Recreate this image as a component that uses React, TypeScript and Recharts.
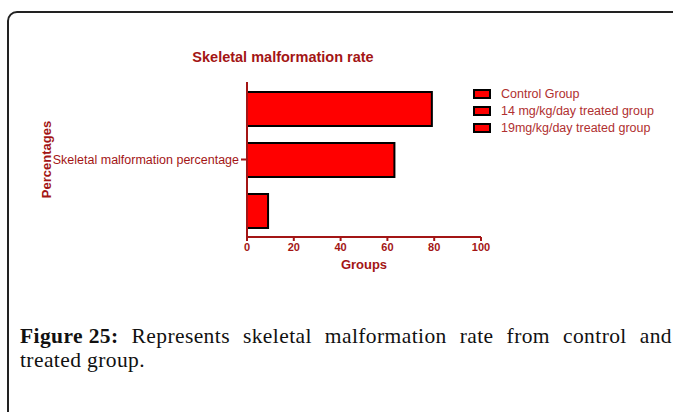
import { BarChart, Bar, XAxis, YAxis } from "recharts";

const categories = ["Skeletal malformation percentage"];
const seriesNames = [
  "Control Group",
  "14 mg/kg/day treated group",
  "19mg/kg/day treated group",
];
const controlValues = [79];
const lowDoseValues = [63];
const highDoseValues = [9];
const xTicks = [0, 20, 40, 60, 80, 100];

const data = categories.map((name, i) => ({
  name,
  control: controlValues[i],
  low: lowDoseValues[i],
  high: highDoseValues[i],
}));

const dark = "#a31515";
const sans = "'Liberation Sans', Arial, sans-serif";

export default function App() {
  const captionLine = {
    width: 652,
    height: 24,
    fontFamily: "'Liberation Serif', 'Times New Roman', serif",
    fontSize: 21.5,
    letterSpacing: 0.4,
    lineHeight: "24px",
    color: "#111",
    whiteSpace: "nowrap" as const,
  };
  return (
    <div
      style={{
        position: "absolute",
        left: 0,
        top: 0,
        width: 673,
        height: 412,
        overflow: "hidden",
        background: "#fff",
      }}
    >
      <div
        style={{
          position: "absolute",
          left: 7,
          top: 11,
          width: 720,
          height: 460,
          border: "2px solid #222",
          borderRadius: 10,
        }}
      />
      <div
        style={{
          position: "absolute",
          left: 0,
          top: 49,
          width: 566,
          textAlign: "center",
          fontFamily: sans,
          fontWeight: "bold",
          fontSize: 14.5,
          color: dark,
        }}
      >
        Skeletal malformation rate
      </div>
      <div style={{ position: "absolute", left: 0, top: 0 }}>
        <BarChart
          width={673}
          height={290}
          data={data}
          layout="vertical"
          margin={{ top: 82, right: 192, left: 30, bottom: 13 }}
          barCategoryGap={9}
          barGap={17}
          barSize={34}
        >
          <XAxis
            type="number"
            domain={[0, 100]}
            ticks={xTicks}
            height={40}
            stroke={dark}
            strokeWidth={2}
            tickSize={4}
            tick={{ fill: dark, fontSize: 11, fontWeight: "bold", fontFamily: sans }}
            label={{
              value: "Groups",
              position: "insideBottom",
              offset: 8,
              fill: dark,
              fontSize: 13,
              fontWeight: "bold",
              fontFamily: sans,
            }}
          />
          <YAxis
            type="category"
            dataKey="name"
            width={217}
            stroke={dark}
            strokeWidth={2}
            tickSize={6}
            tick={{ fill: dark, fontSize: 12.5, fontFamily: sans }}
            label={{
              value: "Percentages",
              angle: -90,
              position: "insideLeft",
              offset: 16,
              fill: dark,
              fontSize: 13,
              fontWeight: "bold",
              fontFamily: sans,
              style: { textAnchor: "middle" },
            }}
          />
          <Bar dataKey="control" name={seriesNames[0]} fill="#ff0000" stroke="#000" strokeWidth={2} isAnimationActive={false} />
          <Bar dataKey="low" name={seriesNames[1]} fill="#ff0000" stroke="#000" strokeWidth={2} isAnimationActive={false} />
          <Bar dataKey="high" name={seriesNames[2]} fill="#ff0000" stroke="#000" strokeWidth={2} isAnimationActive={false} />
        </BarChart>
      </div>
      <div style={{ position: "absolute", left: 473, top: 85, fontFamily: sans }}>
        {seriesNames.map((n) => (
          <div
            key={n}
            style={{ display: "flex", alignItems: "center", height: 17, color: "#b03030", fontSize: 12.5 }}
          >
            <span
              style={{
                display: "inline-block",
                width: 14,
                height: 6,
                background: "#ff0000",
                border: "2px solid #000",
                marginRight: 10,
              }}
            />
            {n}
          </div>
        ))}
      </div>
      <div style={{ position: "absolute", left: 20, top: 324 }}>
        <div style={{ ...captionLine, display: "flex", justifyContent: "space-between" }}>
          <b>Figure 25:</b>
          {"Represents skeletal malformation rate from control and".split(" ").map((w, i) => (
            <span key={i}>{w}</span>
          ))}
        </div>
        <div style={captionLine}>treated group.</div>
      </div>
    </div>
  );
}
